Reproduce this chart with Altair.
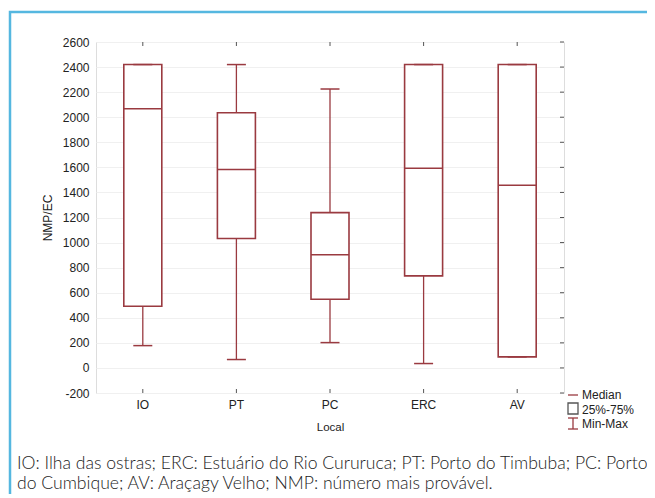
import altair as alt
import pandas as pd

locais = ["IO", "PT", "PC", "ERC", "AV"]
minimos = [178, 67, 202, 35, 88]
q1 = [492, 1032, 548, 734, 88]
medianas = [2068, 1582, 902, 1593, 1457]
q3 = [2420, 2036, 1239, 2420, 2420]
maximos = [2420, 2420, 2225, 2420, 2420]
y_ticks = list(range(-200, 2601, 200))
legend_labels = ["Median", "25%-75%", "Min-Max"]
caption_lines = [
    "IO: Ilha das ostras; ERC: Estuário do Rio Cururuca; PT: Porto do Timbuba; PC: Porto",
    "do Cumbique; AV: Araçagy Velho; NMP: número mais provável.",
]

df = pd.DataFrame({"Local": locais, "min": minimos, "q1": q1, "med": medianas, "q3": q3, "max": maximos})

W, H = 468, 351
RED = "#9a3a40"
FONT = "Liberation Sans"

xs = alt.Scale(domain=locais, paddingInner=0, paddingOuter=0)
ys = alt.Scale(domain=[-200, 2600], nice=False, zero=False)

x_axis = alt.Axis(title="Local", labelAngle=0, ticks=False, domain=False, grid=False,
                  labelFont=FONT, labelFontSize=12, labelColor="#222", labelPadding=6,
                  titleFont=FONT, titleFontSize=11.5, titleFontWeight="normal",
                  titleColor="#222", titlePadding=11)
y_axis = alt.Axis(title="NMP/EC", values=y_ticks, labelExpr="'' + datum.value", labelOverlap=False,
                  ticks=False, domain=False, grid=True,
                  gridColor="#f0f0f0", gridWidth=1,
                  labelFont=FONT, labelFontSize=12, labelColor="#222", labelPadding=7,
                  titleFont=FONT, titleFontSize=12, titleFontWeight="normal",
                  titleColor="#222", titlePadding=8)


def X():
    return alt.X("Local:N", scale=xs, sort=locais, axis=x_axis)


def Y(field):
    return alt.Y(field, scale=ys, axis=y_axis)


base = alt.Chart(df)

whisk_lo = base.mark_rule(color=RED, strokeWidth=1.3).encode(x=X(), y=Y("min:Q"), y2="q1:Q")
whisk_hi = base.mark_rule(color=RED, strokeWidth=1.3).encode(x=X(), y=Y("q3:Q"), y2="max:Q")
box = base.mark_bar(size=38, fill="white", stroke=RED, strokeWidth=1.6).encode(
    x=X(), y=Y("q1:Q"), y2="q3:Q")
median = base.mark_tick(size=38, thickness=1.5, color=RED, opacity=1).encode(x=X(), y=Y("med:Q"))
cap_lo = base.mark_tick(size=19, thickness=1.5, color=RED, opacity=1).encode(x=X(), y=Y("min:Q"))
cap_hi = base.mark_tick(size=19, thickness=1.5, color=RED, opacity=1).encode(x=X(), y=Y("max:Q"))

one = pd.DataFrame({"k": [0]})
dec = alt.Chart(one)

# inside tick marks on the frame
tick_len = 4
ticks_top = base.mark_rule(color="#555", strokeWidth=1).encode(
    x=X(), y=alt.value(0), y2=alt.value(tick_len))
ticks_bot = base.mark_rule(color="#555", strokeWidth=1).encode(
    x=X(), y=alt.value(H), y2=alt.value(H - tick_len))
tick_df = pd.DataFrame({"v": y_ticks})
ticks_right = alt.Chart(tick_df).mark_rule(color="#555", strokeWidth=1).encode(
    y=Y("v:Q"), x=alt.value(W - tick_len), x2=alt.value(W))

# outer blue frame
frame = dec.mark_rect(fill=None, stroke="#55b7e0", strokeWidth=2.5, clip=False).encode(
    x=alt.value(-86), y=alt.value(-30), x2=alt.value(W + 150), y2=alt.value(H + 150))

# legend
lx = 472
leg_med = dec.mark_rule(color=RED, strokeWidth=1.3).encode(
    x=alt.value(lx), x2=alt.value(lx + 10), y=alt.value(353))
leg_box = dec.mark_rect(fill="white", stroke="#555", strokeWidth=1.3).encode(
    x=alt.value(lx), x2=alt.value(lx + 10), y=alt.value(361), y2=alt.value(372))
leg_mm_v = dec.mark_rule(color=RED, strokeWidth=1.3).encode(
    x=alt.value(lx + 5), y=alt.value(376), y2=alt.value(387))
leg_mm_t = dec.mark_rule(color=RED, strokeWidth=1.3).encode(
    x=alt.value(lx), x2=alt.value(lx + 10), y=alt.value(376))
leg_mm_b = dec.mark_rule(color=RED, strokeWidth=1.3).encode(
    x=alt.value(lx), x2=alt.value(lx + 10), y=alt.value(387))
leg_layers = []
for i, lab in enumerate(legend_labels):
    leg_layers.append(dec.mark_text(align="left", baseline="middle", font=FONT, fontSize=12,
                                    color="#222").encode(
        x=alt.value(lx + 14), y=alt.value(353 + i * 14.5), text=alt.value(lab)))

# caption
cap_layers = []
for i, line in enumerate(caption_lines):
    cap_layers.append(dec.mark_text(align="left", baseline="alphabetic", font="Lato", fontSize=17.6,
                                    fontWeight=300, color="#222").encode(
        x=alt.value(-79), y=alt.value(427 + i * 19.5), text=alt.value(line)))

chart = alt.layer(
    frame, whisk_lo, whisk_hi, box, median, cap_lo, cap_hi,
    ticks_top, ticks_bot, ticks_right,
    leg_med, leg_box, leg_mm_v, leg_mm_t, leg_mm_b, *leg_layers, *cap_layers
).properties(
    width=W, height=H,
    autosize=alt.AutoSizeParams(type="none"),
    padding={"left": 88, "top": 34, "right": 83, "bottom": 101},
).configure_view(stroke="#666", strokeWidth=1.2).configure(background="white"
).configure_axisY(labelOverlap=False)

chart.save("out.html", embed_options={"renderer": "svg", "actions": False})
